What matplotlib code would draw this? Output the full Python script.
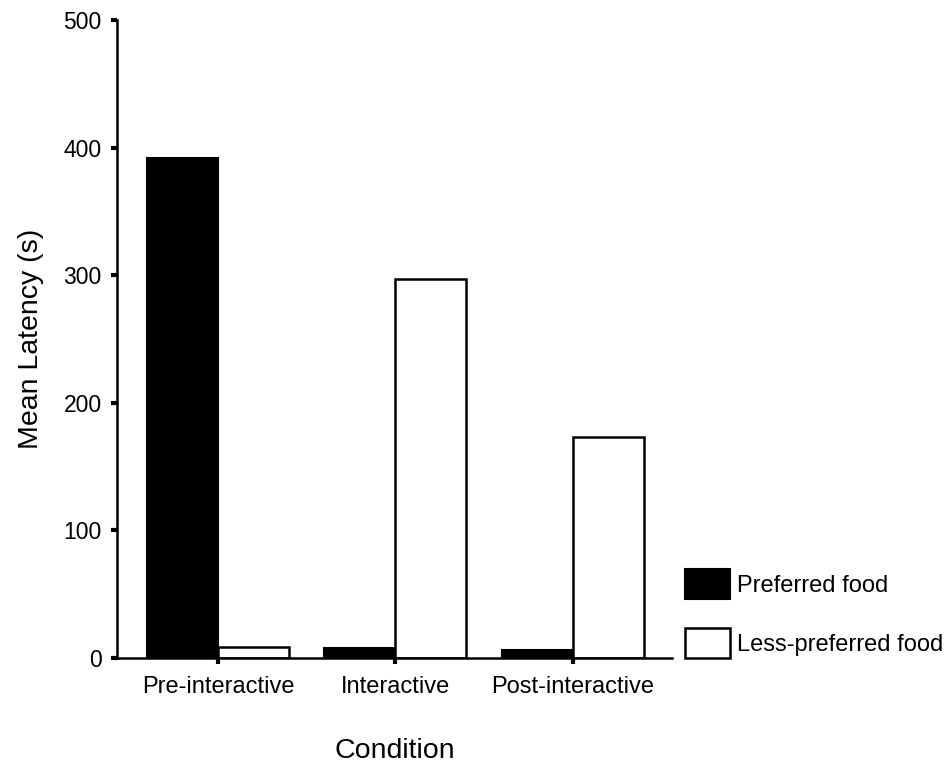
import matplotlib
matplotlib.use("Agg")
import matplotlib.pyplot as plt
import numpy as np
from matplotlib.patches import Patch

plt.rcParams["font.family"] = ["Liberation Sans", "DejaVu Sans"]

# Data
conditions = ["Pre-interactive", "Interactive", "Post-interactive"]
preferred = [392, 8, 6]
less_preferred = [9, 297, 173]
series_labels = ["Preferred food", "Less-preferred food"]
yticks = [0, 100, 200, 300, 400, 500]

fig = plt.figure(figsize=(9.46, 7.67), dpi=100)
ax = fig.add_axes([117 / 946, 1 - 658 / 767, (672 - 117) / 946, (658 - 20) / 767])

x = np.arange(len(conditions))
width = 0.4
ax.bar(x - width / 2, preferred, width, color="black", edgecolor="black", linewidth=1.5)
ax.bar(x + width / 2, less_preferred, width, color="white", edgecolor="black", linewidth=1.8)

ax.set_xlim(-0.57, 2.56)
ax.set_ylim(0, 500)
ax.set_yticks(yticks)
ax.set_xticks(x)
ax.set_xticklabels(conditions)

for side in ("top", "right"):
    ax.spines[side].set_visible(False)
for side in ("left", "bottom"):
    ax.spines[side].set_linewidth(1.8)

ax.tick_params(axis="y", length=4, width=3, labelsize=16.5, pad=7)
ax.tick_params(axis="x", length=4, width=3, labelsize=17, pad=9)

ax.set_xlabel("Condition", fontsize=20.5, labelpad=29)
ax.set_ylabel("Mean Latency (s)", fontsize=20.5, labelpad=14)

handles = [
    Patch(facecolor="black", edgecolor="black", linewidth=1.5),
    Patch(facecolor="white", edgecolor="black", linewidth=1.8),
]
fig.legend(
    handles,
    series_labels,
    loc="upper left",
    bbox_to_anchor=(685 / 946, 1 - 569 / 767),
    frameon=False,
    fontsize=17,
    handlelength=1.9,
    handleheight=1.6,
    handletextpad=0.3,
    labelspacing=1.2,
    borderpad=0,
    borderaxespad=0,
)

fig.savefig("out.png", dpi=100)
